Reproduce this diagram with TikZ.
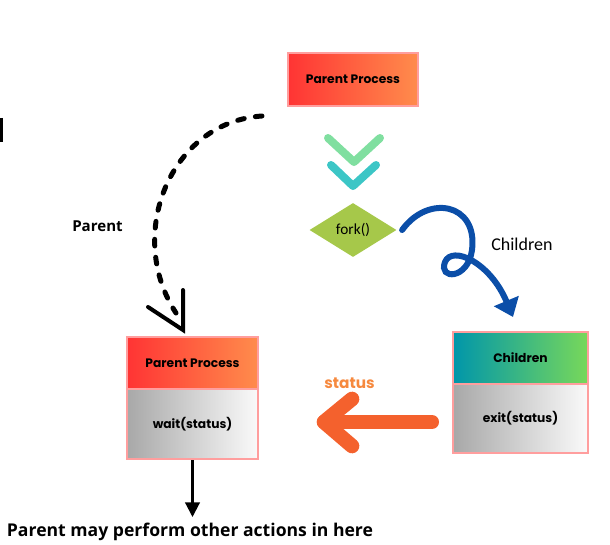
\documentclass[tikz,border=0pt]{standalone}
\usepackage{fontspec}
\setmainfont{Poppins}
\newfontfamily\carl{Carlito}
\newfontfamily\opens{Open Sans}
\usetikzlibrary{shapes.geometric,arrows.meta}
\definecolor{boxpink}{HTML}{FF9E9E}
\definecolor{redL}{HTML}{FF3434}
\definecolor{redR}{HTML}{FF8C4C}
\definecolor{grayL}{HTML}{A8A8A8}
\definecolor{grayR}{HTML}{FAFAFA}
\definecolor{tealL}{HTML}{0096AA}
\definecolor{greenR}{HTML}{78D85A}
\definecolor{chevA}{HTML}{80DFA0}
\definecolor{chevB}{HTML}{3CC6C6}
\definecolor{forkg}{HTML}{A6C84A}
\definecolor{arrblue}{HTML}{0B4EA8}
\definecolor{arrorange}{HTML}{F4612D}
\definecolor{statusor}{HTML}{F6893E}
\begin{document}
\begin{tikzpicture}[x=0.75pt,y=-0.75pt,
  pbox/.style={draw=boxpink, line width=1.5pt, inner sep=0pt,
    font=\fontsize{9.2}{10}\selectfont\bfseries},
  redbox/.style={pbox, left color=redL, right color=redR},
  graybox/.style={pbox, left color=grayL, right color=grayR},
  tealbox/.style={pbox, left color=tealL, right color=greenR},
  chev/.style={line width=6pt, line cap=round, line join=round},
  lbl/.style={inner sep=0pt, anchor=base}
]
\useasboundingbox (0,0) rectangle (610,545);

% top box
\node[redbox, minimum width=97.5pt, minimum height=39.75pt] (top) at (353,79.5) {Parent Process};

% chevrons
\draw[chev, chevA] (328,138) -- (354,162) -- (380,138);
\draw[chev, chevB] (331,165) -- (353,186) -- (376,165);

% fork diamond
\node[diamond, fill=forkg, inner sep=0pt, aspect=1.6, minimum width=65.25pt, minimum height=40.5pt,
  font=\carl\fontsize{11.5}{12}\selectfont] (fork) at (353,230) {fork()};

% left composite box
\node[redbox, minimum width=98.25pt, minimum height=39pt] (pp) at (192.5,363) {Parent Process};
\node[graybox, minimum width=98.25pt, minimum height=52.5pt] (wait) at (192.5,424) {wait(status)};

% right composite box
\node[tealbox, minimum width=101.25pt, minimum height=39pt] (ch) at (520.5,358) {Children};
\node[graybox, minimum width=101.25pt, minimum height=51.75pt] (exit) at (520.5,418.5) {exit(status)};

% labels
\node[lbl, font=\opens\bfseries\fontsize{11.3}{12}\selectfont] (plab) at (97.5,232) {Parent};
\node[lbl, anchor=base west, font=\carl\fontsize{13.5}{14}\selectfont] (clab) at (491,251) {Children};
\node[lbl, font=\fontsize{11.5}{12}\selectfont\bfseries, text=statusor] (slab) at (349.5,388) {status};
\node[lbl, font=\opens\bfseries\fontsize{13.2}{14}\selectfont] (btxt) at (190,536) {Parent may perform other actions in here};

% dashed arrow parent
\coordinate (ds) at (262,116);
\coordinate (de) at (176,313);
\coordinate (dtip) at (183,330);
\draw[line width=3.75pt, line cap=round, dash pattern=on 5pt off 8.5pt]
  (ds) .. controls (170,122) and (125,235) .. (de);
\draw[line width=3pt, line join=miter, line cap=round] (148,307) -- (dtip) -- (183,290);

% blue curly arrow
\coordinate (btip) at (513,317);
\draw[arrblue, line width=4.5pt, line cap=round, -{Triangle[length=13pt,width=19.5pt]}]
  ([xshift=4pt]fork.east) .. controls (428,194) and (478,203) .. (472,250)
  .. controls (468,280) and (438,280) .. (445,262)
  .. controls (452,245) and (490,262) .. (btip);

% orange status arrow
\coordinate (oa) at (432,422);
\coordinate (ob) at (324,422);
\draw[arrorange, line width=10.5pt, line cap=round, line join=round] (oa) -- (ob);
\draw[arrorange, line width=11pt, line cap=round, line join=round] (352,399) -- (ob) -- (352,446);

% black down arrow
\coordinate (bend) at (192.5,517);
\draw[line width=1.6pt, -{Triangle[length=11pt,width=11pt]}] (wait.south) -- (bend);

% small mark at left edge
\draw[line width=1.5pt] (1.5,118) -- (1.5,142);
\end{tikzpicture}
\end{document}
